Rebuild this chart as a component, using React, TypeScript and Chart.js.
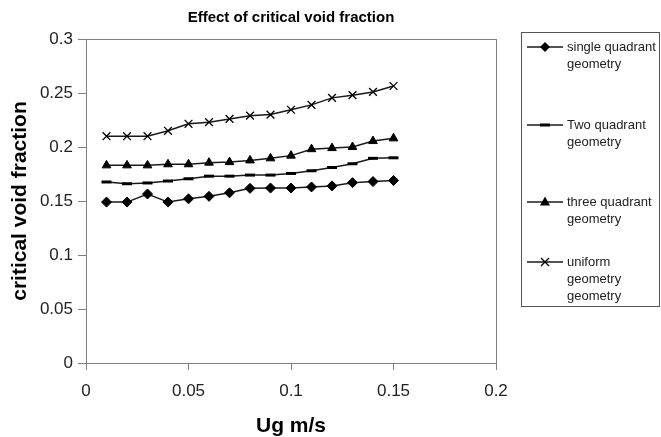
import React, { useEffect, useRef } from 'react';
import { Chart, registerables } from 'chart.js';

Chart.register(...registerables);

const chartTitle = 'Effect of critical void fraction';
const xAxisTitle = 'Ug m/s';
const yAxisTitle = 'critical void fraction';

const ugValues = [0.01, 0.02, 0.03, 0.04, 0.05, 0.06, 0.07, 0.08, 0.09, 0.1, 0.11, 0.12, 0.13, 0.14, 0.15];
const singleQuadrant = [0.149, 0.149, 0.1565, 0.149, 0.152, 0.1543, 0.1576, 0.1617, 0.162, 0.162, 0.163, 0.164, 0.167, 0.168, 0.169];
const twoQuadrant = [0.1676, 0.166, 0.1667, 0.1685, 0.1706, 0.173, 0.173, 0.174, 0.174, 0.1755, 0.178, 0.181, 0.1845, 0.1895, 0.19];
const threeQuadrant = [0.183, 0.183, 0.183, 0.184, 0.184, 0.1855, 0.186, 0.1876, 0.1895, 0.192, 0.198, 0.199, 0.2, 0.2055, 0.208];
const uniformGeometry = [0.21, 0.21, 0.21, 0.215, 0.2215, 0.223, 0.226, 0.229, 0.23, 0.2345, 0.239, 0.2455, 0.248, 0.251, 0.2565];

const seriesLabels = [
  ['single quadrant', 'geometry'],
  ['Two quadrant', 'geometry'],
  ['three quadrant', 'geometry'],
  ['uniform', 'geometry', 'geometry'],
];
const seriesMarkers = ['rectRot', 'line', 'triangle', 'crossRot'];

const xTickLabels = ['0', '0.05', '0.1', '0.15', '0.2'];
const yTickLabels = ['0', '0.05', '0.1', '0.15', '0.2', '0.25', '0.3'];

const FONT = 'Arial, "Liberation Sans", sans-serif';
const AXIS_GRAY = '#7f7f7f';

function drawMarker(ctx: CanvasRenderingContext2D, style: string, x: number, y: number) {
  ctx.save();
  ctx.fillStyle = '#000';
  ctx.strokeStyle = '#000';
  ctx.beginPath();
  if (style === 'rectRot') {
    ctx.moveTo(x, y - 5);
    ctx.lineTo(x + 5, y);
    ctx.lineTo(x, y + 5);
    ctx.lineTo(x - 5, y);
    ctx.closePath();
    ctx.fill();
  } else if (style === 'line') {
    ctx.fillRect(x - 5, y - 1.5, 10, 3);
  } else if (style === 'triangle') {
    ctx.moveTo(x, y - 5.5);
    ctx.lineTo(x + 5, y + 3.5);
    ctx.lineTo(x - 5, y + 3.5);
    ctx.closePath();
    ctx.fill();
  } else {
    ctx.lineWidth = 1.3;
    ctx.moveTo(x - 4, y - 4);
    ctx.lineTo(x + 4, y + 4);
    ctx.moveTo(x + 4, y - 4);
    ctx.lineTo(x - 4, y + 4);
    ctx.stroke();
  }
  ctx.restore();
}

const decorPlugin = {
  id: 'decor',
  afterDraw(chart: any) {
    const { ctx, chartArea } = chart;
    ctx.save();
    // plot frame
    ctx.strokeStyle = AXIS_GRAY;
    ctx.lineWidth = 1;
    ctx.strokeRect(Math.round(chartArea.left) + 0.5, Math.round(chartArea.top) + 0.5,
      Math.round(chartArea.right - chartArea.left), Math.round(chartArea.bottom - chartArea.top));
    // title
    ctx.fillStyle = '#000';
    ctx.font = `bold 15px ${FONT}`;
    ctx.textAlign = 'center';
    ctx.textBaseline = 'middle';
    ctx.fillText(chartTitle, (chartArea.left + chartArea.right) / 2, 18);
    // legend box
    const boxLeft = 521;
    const boxTop = 32;
    ctx.strokeStyle = '#555';
    ctx.strokeRect(boxLeft + 0.5, boxTop + 0.5, 659 - boxLeft, 306 - boxTop);
    const entryY = [47, 125, 202, 262];
    ctx.font = `13px ${FONT}`;
    ctx.textAlign = 'left';
    ctx.textBaseline = 'middle';
    chart.data.datasets.forEach((ds: any, i: number) => {
      const y = entryY[i];
      ctx.strokeStyle = '#1a1a1a';
      ctx.lineWidth = 1.5;
      ctx.beginPath();
      ctx.moveTo(527, y);
      ctx.lineTo(563, y);
      ctx.stroke();
      drawMarker(ctx, seriesMarkers[i], 545, y);
      ctx.fillStyle = '#222';
      seriesLabels[i].forEach((line, j) => {
        ctx.fillText(line, 567, y + j * 17);
      });
    });
    ctx.restore();
  },
};

export default function App() {
  const canvasRef = useRef<HTMLCanvasElement | null>(null);

  useEffect(() => {
    document.body.style.margin = '0';
    const canvas = canvasRef.current;
    if (!canvas) return;
    Chart.defaults.font.family = FONT;
    const allSeries = [singleQuadrant, twoQuadrant, threeQuadrant, uniformGeometry];
    const datasets = allSeries.map((vals, i) => ({
      label: seriesLabels[i].join(' '),
      data: ugValues.map((x, k) => ({ x, y: vals[k] })),
      showLine: true,
      borderColor: '#1a1a1a',
      borderWidth: 1.5,
      backgroundColor: '#000',
      pointBackgroundColor: '#000',
      pointBorderColor: '#000',
      pointStyle: seriesMarkers[i],
      pointRadius: seriesMarkers[i] === 'crossRot' ? 5.5 : 5,
      pointBorderWidth: seriesMarkers[i] === 'line' ? 3 : seriesMarkers[i] === 'crossRot' ? 1.3 : 1,
      tension: 0,
    }));

    const chart = new Chart(canvas, {
      type: 'scatter',
      data: { datasets },
      options: {
        responsive: false,
        animation: false,
        devicePixelRatio: 1,
        layout: { padding: { top: 39, right: 165, left: 0, bottom: 0 } },
        plugins: {
          legend: { display: false },
          title: { display: false },
          tooltip: { enabled: false },
        },
        scales: {
          x: {
            type: 'linear',
            min: 0,
            max: 0.2,
            afterFit: (s: any) => { s.height = 74; },
            ticks: {
              stepSize: 0.05,
              color: '#222',
              font: { size: 17, family: FONT },
              padding: 11,
              maxRotation: 0,
              callback: (_v: any, idx: number) => xTickLabels[idx],
            },
            grid: { drawOnChartArea: false, drawTicks: true, tickLength: 7, color: AXIS_GRAY },
            border: { display: true, color: AXIS_GRAY },
            title: {
              display: true,
              text: xAxisTitle,
              color: '#000',
              font: { size: 21, weight: 'bold', family: FONT },
              padding: { top: 0, bottom: -2 },
            },
          },
          y: {
            type: 'linear',
            min: 0,
            max: 0.3,
            afterFit: (s: any) => { s.width = 86; },
            ticks: {
              stepSize: 0.05,
              color: '#222',
              font: { size: 17, family: FONT },
              padding: 5,
              callback: (_v: any, idx: number) => yTickLabels[idx],
            },
            grid: { drawOnChartArea: false, drawTicks: true, tickLength: 8, color: AXIS_GRAY },
            border: { display: true, color: AXIS_GRAY },
            title: {
              display: true,
              text: yAxisTitle,
              color: '#000',
              font: { size: 21, weight: 'bold', family: FONT },
              padding: { top: 8, bottom: 0 },
            },
          },
        },
      },
      plugins: [decorPlugin],
    } as any);

    return () => chart.destroy();
  }, []);

  return (
    <div style={{ position: 'absolute', left: 0, top: 0, width: 661, height: 437 }}>
      <canvas ref={canvasRef} width={661} height={437} style={{ display: 'block' }} />
    </div>
  );
}
